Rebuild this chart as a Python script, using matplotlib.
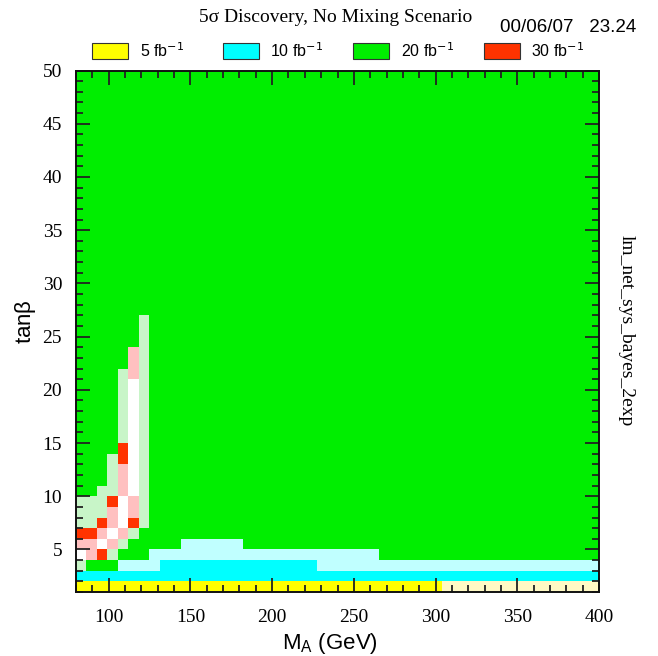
import numpy as np
import matplotlib
matplotlib.use("Agg")
import matplotlib.pyplot as plt
from matplotlib.colors import ListedColormap, BoundaryNorm
from matplotlib.ticker import MultipleLocator

# --- scan grid: M_A bins (GeV) and tan(beta) bins ---
ma_min, ma_max, n_ma = 80.0, 400.0, 50
tb_min, tb_max, n_tb = 1.0, 50.0, 49

# cell categories: Y/C/G/R = 5/10/20/30 fb^-1, lower-case = marginal shade, W = none
categories = ["Y", "y", "C", "c", "G", "g", "R", "r", "W"]
cat_colors = ["#ffff00", "#fff9c4", "#00ffff", "#c0ffff",
              "#00ee00", "#c8f5c8", "#ff3300", "#ffc0c0", "#ffffff"]

# lowest tan(beta) rows (tanb = 1, 2, 3, ...), one character per M_A bin
low_rows = [
    "YYYYYYYYYYYYYYYYYYYYYYYYYYYYYYYYYYYyyyyyyyyyyyyyyy",  # 1
    "CCCCCCCCCCCCCCCCCCCCCCCCCCCCCCCCCCCCCCCCCCCCCCCCCC",  # 2
    "gGGGccccCCCCCCCCCCCCCCCccccccccccccccccccccccccccc",  # 3
    "WrRgGGGccccccccccccccccccccccGGGGGGGGGGGGGGGGGGGGG",  # 4
    "rrWrgGGGGGccccccGGGGGGGGGGGGGGGGGGGGGGGGGGGGGGGGGG",  # 5
    "RRrWrgGGGGGGGGGGGGGGGGGGGGGGGGGGGGGGGGGGGGGGGGGGGG",  # 6
    "ggRrWRgGGGGGGGGGGGGGGGGGGGGGGGGGGGGGGGGGGGGGGGGGGG",  # 7
    "gggrWrgGGGGGGGGGGGGGGGGGGGGGGGGGGGGGGGGGGGGGGGGGGG",  # 8
    "gggRWrgGGGGGGGGGGGGGGGGGGGGGGGGGGGGGGGGGGGGGGGGGGG",  # 9
    "GGggrWgGGGGGGGGGGGGGGGGGGGGGGGGGGGGGGGGGGGGGGGGGGG",  # 10
    "GGGgrWgGGGGGGGGGGGGGGGGGGGGGGGGGGGGGGGGGGGGGGGGGGG",  # 11
    "GGGgrWgGGGGGGGGGGGGGGGGGGGGGGGGGGGGGGGGGGGGGGGGGGG",  # 12
    "GGGgRWgGGGGGGGGGGGGGGGGGGGGGGGGGGGGGGGGGGGGGGGGGGG",  # 13
    "GGGGRWgGGGGGGGGGGGGGGGGGGGGGGGGGGGGGGGGGGGGGGGGGGG",  # 14
    "GGGGgWgGGGGGGGGGGGGGGGGGGGGGGGGGGGGGGGGGGGGGGGGGGG",  # 15
    "GGGGgWgGGGGGGGGGGGGGGGGGGGGGGGGGGGGGGGGGGGGGGGGGGG",  # 16
    "GGGGgWgGGGGGGGGGGGGGGGGGGGGGGGGGGGGGGGGGGGGGGGGGGG",  # 17
    "GGGGgWgGGGGGGGGGGGGGGGGGGGGGGGGGGGGGGGGGGGGGGGGGGG",  # 18
    "GGGGgWgGGGGGGGGGGGGGGGGGGGGGGGGGGGGGGGGGGGGGGGGGGG",  # 19
    "GGGGgWgGGGGGGGGGGGGGGGGGGGGGGGGGGGGGGGGGGGGGGGGGGG",  # 20
    "GGGGgrgGGGGGGGGGGGGGGGGGGGGGGGGGGGGGGGGGGGGGGGGGGG",  # 21
    "GGGGGrgGGGGGGGGGGGGGGGGGGGGGGGGGGGGGGGGGGGGGGGGGGG",  # 22
    "GGGGGrgGGGGGGGGGGGGGGGGGGGGGGGGGGGGGGGGGGGGGGGGGGG",  # 23
    "GGGGGGgGGGGGGGGGGGGGGGGGGGGGGGGGGGGGGGGGGGGGGGGGGG",  # 24
    "GGGGGGgGGGGGGGGGGGGGGGGGGGGGGGGGGGGGGGGGGGGGGGGGGG",  # 25
    "GGGGGGgGGGGGGGGGGGGGGGGGGGGGGGGGGGGGGGGGGGGGGGGGGG",  # 26
]
upper_fill = "G"  # every higher tan(beta) row

legend_labels = ["5 fb$^{-1}$", "10 fb$^{-1}$", "20 fb$^{-1}$", "30 fb$^{-1}$"]
legend_codes = ["Y", "C", "G", "R"]

x_ticks = [100, 150, 200, 250, 300, 350, 400]
y_ticks = [5, 10, 15, 20, 25, 30, 35, 40, 45, 50]

# --- build the category matrix ---
index = {c: i for i, c in enumerate(categories)}
grid = np.full((n_tb, n_ma), index[upper_fill], dtype=int)
for r, row in enumerate(low_rows):
    assert len(row) == n_ma
    grid[r, :] = [index[ch] for ch in row]

ma_edges = np.linspace(ma_min, ma_max, n_ma + 1)
tb_edges = np.linspace(tb_min, tb_max, n_tb + 1)

SERIF = ["Liberation Serif", "DejaVu Serif"]
SANS = ["Liberation Sans", "DejaVu Sans"]

fig = plt.figure(figsize=(6.58, 6.56), dpi=100)
W, H = 658.0, 656.0
ax = fig.add_axes([76 / W, 1 - 592 / H, (599 - 76) / W, (592 - 70.5) / H])

cmap = ListedColormap(cat_colors)
norm = BoundaryNorm(np.arange(len(categories) + 1) - 0.5, cmap.N)
ax.pcolormesh(ma_edges, tb_edges, grid, cmap=cmap, norm=norm,
              shading="flat", edgecolors="none", antialiased=False)

ax.set_xlim(ma_min, ma_max)
ax.set_ylim(tb_min, tb_max)

ax.set_xticks(x_ticks)
ax.set_yticks(y_ticks)
ax.xaxis.set_minor_locator(MultipleLocator(10))
ax.yaxis.set_minor_locator(MultipleLocator(1))
ax.tick_params(which="both", direction="in", top=True, right=True,
               color="#222222", width=1.3)
ax.tick_params(which="major", length=10)
ax.tick_params(which="minor", length=5)
ax.tick_params(axis="x", which="major", pad=12)
ax.tick_params(axis="y", which="major", pad=10)
for lab in ax.get_xticklabels() + ax.get_yticklabels():
    lab.set_family(SERIF)
    lab.set_fontsize(14)
for s in ax.spines.values():
    s.set_linewidth(1.4)
    s.set_color("#111111")

# axis titles
fig.text(330 / W, 1 - 643 / H, r"M$_\mathregular{A}$ (GeV)", family=SANS,
         fontsize=16, ha="center", va="center")
fig.text(25 / W, 1 - 322 / H, r"tan$\mathregular{\beta}$", family=SANS,
         fontsize=16, ha="center", va="center", rotation=90)

# header
fig.text(336 / W, 1 - 17 / H, "5σ Discovery, No Mixing Scenario",
         family=SERIF, fontsize=14, ha="center", va="center")
fig.text(500 / W, 1 - 27 / H, "00/06/07   23.24", family=SANS,
         fontsize=13.5, ha="left", va="center")
fig.text(626 / W, 1 - 331 / H, "lm_net_sys_bayes_2exp", family=SERIF,
         fontsize=14, ha="center", va="center", rotation=-90)

# legend row
box_left = [92, 223, 353, 484]
label_left = [140, 270, 401, 531]
for bx, lx, code, text in zip(box_left, label_left, legend_codes, legend_labels):
    fig.patches.append(plt.Rectangle((bx / W, 1 - 59 / H), 36 / W, 16 / H,
                                     transform=fig.transFigure,
                                     facecolor=cat_colors[index[code]],
                                     edgecolor="#333333", linewidth=0.8))
    fig.text(lx / W, 1 - 51 / H, text, family=SANS, fontsize=11.5,
             ha="left", va="center")

fig.savefig("out.png", dpi=100)
